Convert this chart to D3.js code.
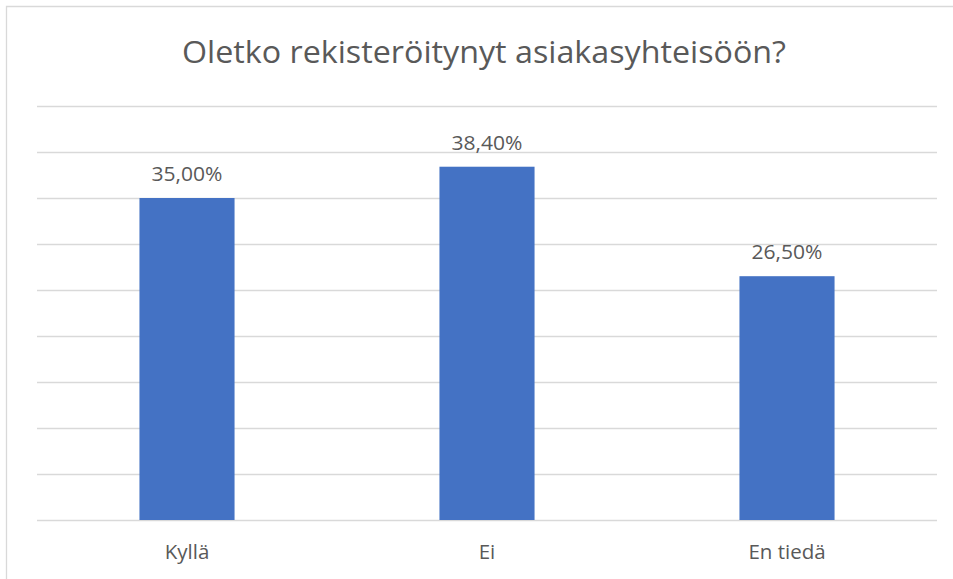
<!DOCTYPE html>
<html><head><meta charset="utf-8">
<script src="https://cdn.jsdelivr.net/npm/d3@7"></script>
<style>html,body{margin:0;padding:0;background:#fff;}</style>
</head><body>
<script>
const title = "Oletko rekisteröitynyt asiakasyhteisöön?";
const categories = ["Kyllä", "Ei", "En tiedä"];
const values = [35.0, 38.4, 26.5];
const yTicks = [0, 5, 10, 15, 20, 25, 30, 35, 40, 45];

const W = 953, H = 579;
const svg = d3.select("body").append("svg").attr("width", W).attr("height", H);
const font = "'Open Sans', 'Noto Sans', sans-serif";

// chart border
svg.append("path").attr("d", `M6.5,${H+2} V6.5 H${W+2}`).attr("fill","none").attr("stroke","#d9d9d9").attr("stroke-width",1.3);

const x = d3.scaleBand().domain(categories).range([37, 937]).paddingInner(0.683).paddingOuter(0.3415);
const y = d3.scaleLinear().domain([0, 45]).range([520, 106]);

// gridlines
svg.append("g").selectAll("line").data(yTicks).join("line")
  .attr("x1", 37).attr("x2", 937)
  .attr("y1", d => Math.round(y(d)) + 0.5).attr("y2", d => Math.round(y(d)) + 0.5)
  .attr("stroke", "#d9d9d9").attr("stroke-width", 1.3);

// bars
svg.append("g").selectAll("rect").data(values).join("rect")
  .attr("x", (d,i) => x(categories[i])).attr("width", x.bandwidth())
  .attr("y", d => y(d)).attr("height", d => y(0) - y(d))
  .attr("fill", "#4472c4");

// value labels
const fmt = v => v.toFixed(2).replace(".", ",") + "%";
svg.append("g").selectAll("text").data(values).join("text")
  .attr("x", (d,i) => x(categories[i]) + x.bandwidth()/2)
  .attr("y", d => y(d) - 17)
  .attr("text-anchor", "middle")
  .attr("font-family", font).attr("font-size", 20).attr("fill", "#595959")
  .attr("textLength", 71).attr("lengthAdjust", "spacingAndGlyphs")
  .text(fmt);

// category labels
const xAxis = d3.axisBottom(x).tickSize(0).tickPadding(0);
const gx = svg.append("g").attr("transform", "translate(0,520)").call(xAxis);
gx.select(".domain").remove();
gx.selectAll("text").attr("y", 39).attr("dy", 0)
  .attr("font-family", font).attr("font-size", 20.5).attr("fill", "#595959");

// title
svg.append("text").attr("x", 484).attr("y", 63).attr("text-anchor", "middle")
  .attr("font-family", font).attr("font-size", 31).attr("fill", "#595959")
  .attr("textLength", 604).attr("lengthAdjust", "spacingAndGlyphs")
  .text(title);
</script>
</body></html>
